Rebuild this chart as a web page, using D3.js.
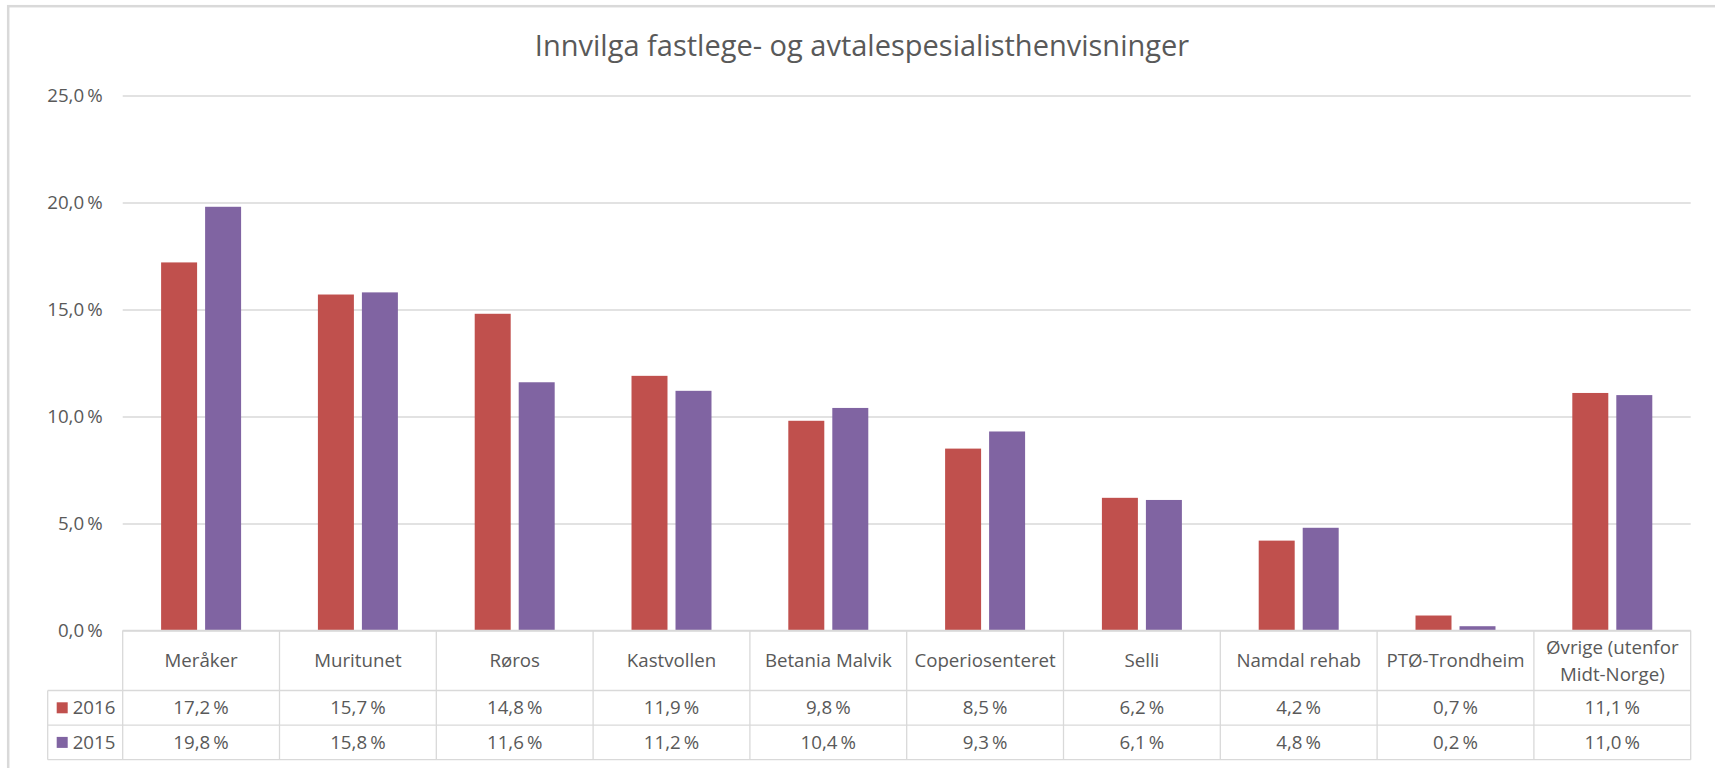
<!DOCTYPE html>
<html>
<head>
<meta charset="utf-8">
<script src="https://cdn.jsdelivr.net/npm/d3@7"></script>
<style>
    body { margin: 0; background: #fff; }
    text { font-family: "Open Sans", sans-serif; fill: #595959; }
</style>
</head>
<body>
<div id="chart"></div>
<script>
// ============================================
// INNVILGA HENVISNINGER - BAR CHART WITH DATA TABLE
// ============================================

var categories = ["Meråker", "Muritunet", "Røros", "Kastvollen", "Betania Malvik",
    "Coperiosenteret", "Selli", "Namdal rehab", "PTØ-Trondheim", "Øvrige (utenfor Midt-Norge)"];
var seriesNames = ["2016", "2015"];
var values2016 = [17.2, 15.7, 14.8, 11.9, 9.8, 8.5, 6.2, 4.2, 0.7, 11.1];
var values2015 = [19.8, 15.8, 11.6, 11.2, 10.4, 9.3, 6.1, 4.8, 0.2, 11.0];
var yTicks = [0, 5, 10, 15, 20, 25];
var title = "Innvilga fastlege- og avtalespesialisthenvisninger";

var width = 1715,
    height = 768;

var colors = { "2016": "#c0504d", "2015": "#8064a2" };
var gridColor = "#d9d9d9";

var plot = { left: 122.7, right: 1690.7, top: 95.5, bottom: 630.5 };
var table = { legendLeft: 47.7, headerH: 60, rowH: 34.6 };

var svg = d3.select("#chart")
    .append("svg")
    .attr("width", width)
    .attr("height", height);

// chart area border
svg.append("rect")
    .attr("x", 8.2)
    .attr("y", 6.2)
    .attr("width", width + 20)
    .attr("height", height + 20)
    .attr("fill", "#fff")
    .attr("stroke", gridColor)
    .attr("stroke-width", 2.5);

// Title
svg.append("text")
    .attr("x", 862)
    .attr("y", 56)
    .attr("text-anchor", "middle")
    .style("font-size", "29px")
    .text(title);

var y = d3.scaleLinear()
    .domain([0, 25])
    .range([plot.bottom, plot.top]);

var x0 = d3.scaleBand()
    .domain(categories)
    .range([plot.left, plot.right])
    .padding(0);

var x1 = d3.scaleBand()
    .domain(seriesNames)
    .range([0, x0.bandwidth()])
    .paddingInner(0.182)
    .paddingOuter(0.873);

var fmt = function (v) {
    return d3.format(".1f")(v).replace(".", ",") + "\u2009%";
};

// Gridlines and y labels
var yAxis = d3.axisLeft(y)
    .tickValues(yTicks)
    .tickSize(-(plot.right - plot.left))
    .tickPadding(20)
    .tickFormat(fmt);

var gy = svg.append("g")
    .attr("transform", "translate(" + plot.left + ",0)")
    .call(yAxis);

gy.select(".domain").remove();
gy.selectAll(".tick line")
    .attr("stroke", gridColor)
    .attr("stroke-width", 1.3);
gy.selectAll(".tick text")
    .attr("fill", "#595959")
    .style("font-size", "18.7px")
    .style("font-family", "'Open Sans', sans-serif");

// Bars
var seriesData = { "2016": values2016, "2015": values2015 };

var groups = svg.append("g")
    .selectAll("g")
    .data(categories)
    .join("g")
    .attr("transform", function (d) { return "translate(" + x0(d) + ",0)"; });

groups.selectAll("rect")
    .data(function (d, i) {
        return seriesNames.map(function (s) { return { key: s, value: seriesData[s][i] }; });
    })
    .join("rect")
    .attr("x", function (d) { return x1(d.key); })
    .attr("y", function (d) { return y(d.value); })
    .attr("width", x1.bandwidth())
    .attr("height", function (d) { return y(0) - y(d.value); })
    .attr("fill", function (d) { return colors[d.key]; });

// Data table
var tableTop = plot.bottom;
var rowsTop = tableTop + table.headerH;
var tableBottom = rowsTop + table.rowH * seriesNames.length;

var tg = svg.append("g").attr("class", "data-table");

// horizontal lines
tg.append("line")
    .attr("x1", plot.left).attr("x2", plot.right)
    .attr("y1", tableTop).attr("y2", tableTop);
d3.range(seriesNames.length + 1).forEach(function (i) {
    tg.append("line")
        .attr("x1", table.legendLeft).attr("x2", plot.right)
        .attr("y1", rowsTop + i * table.rowH).attr("y2", rowsTop + i * table.rowH);
});

// vertical lines
categories.forEach(function (c) {
    tg.append("line")
        .attr("x1", x0(c)).attr("x2", x0(c))
        .attr("y1", tableTop).attr("y2", tableBottom);
});
tg.append("line")
    .attr("x1", plot.right).attr("x2", plot.right)
    .attr("y1", tableTop).attr("y2", tableBottom);
tg.append("line")
    .attr("x1", table.legendLeft).attr("x2", table.legendLeft)
    .attr("y1", rowsTop).attr("y2", tableBottom);

tg.selectAll("line")
    .attr("stroke", gridColor)
    .attr("stroke-width", 1.3);

// category labels, wrapped when too wide
var lineH = 27;
categories.forEach(function (c) {
    var t = tg.append("text")
        .attr("x", x0(c) + x0.bandwidth() / 2)
        .attr("text-anchor", "middle")
        .style("font-size", "18.7px");
    var words = c.split(" ");
    var lines = [];
    var cur = [];
    words.forEach(function (w) {
        cur.push(w);
        t.text(cur.join(" "));
        if (t.node().getComputedTextLength() > x0.bandwidth() - 10 && cur.length > 1) {
            cur.pop();
            lines.push(cur.join(" "));
            cur = [w];
        }
    });
    lines.push(cur.join(" "));
    t.text(null);
    var startY = tableTop + table.headerH / 2 - (lines.length - 1) * lineH / 2;
    lines.forEach(function (l, i) {
        t.append("tspan")
            .attr("x", x0(c) + x0.bandwidth() / 2)
            .attr("y", startY + i * lineH)
            .attr("dy", "0.35em")
            .text(l);
    });
});

// value rows with legend keys
seriesNames.forEach(function (s, r) {
    var cy = rowsTop + r * table.rowH + table.rowH / 2;
    tg.append("rect")
        .attr("x", 56.7)
        .attr("y", cy - 5.5)
        .attr("width", 11)
        .attr("height", 11)
        .attr("fill", colors[s]);
    tg.append("text")
        .attr("x", 72.7)
        .attr("y", cy)
        .attr("dy", "0.35em")
        .style("font-size", "18.7px")
        .text(s);
    categories.forEach(function (c, i) {
        tg.append("text")
            .attr("x", x0(c) + x0.bandwidth() / 2)
            .attr("y", cy)
            .attr("dy", "0.35em")
            .attr("text-anchor", "middle")
            .style("font-size", "18.7px")
            .text(fmt(seriesData[s][i]));
    });
});
</script>
</body>
</html>
